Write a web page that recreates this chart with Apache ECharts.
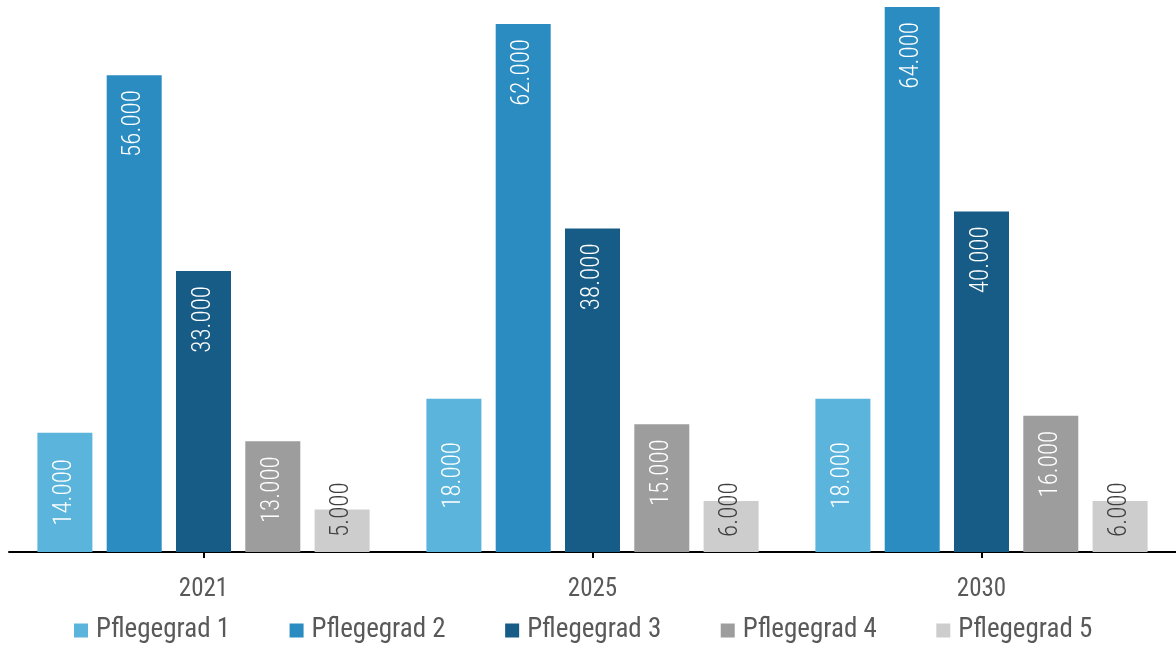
<!DOCTYPE html>
<html>
<head>
<meta charset="utf-8">
<script src="https://cdn.jsdelivr.net/npm/echarts@6/dist/echarts.min.js"></script>
<style>html,body{margin:0;padding:0;background:#fff}#c{width:1176px;height:648px}</style>
</head>
<body>
<div id="c"></div>
<script>
const categories = ['2021', '2025', '2030'];
const seriesNames = ['Pflegegrad 1', 'Pflegegrad 2', 'Pflegegrad 3', 'Pflegegrad 4', 'Pflegegrad 5'];
const pflegegrad1 = [14000, 18000, 18000];
const pflegegrad2 = [56000, 62000, 64000];
const pflegegrad3 = [33000, 38000, 40000];
const pflegegrad4 = [13000, 15000, 16000];
const pflegegrad5 = [5000, 6000, 6000];
const colors = ['#5AB4DC', '#2A8CC0', '#175B87', '#9D9D9D', '#CDCDCD'];

const FONT = '"Roboto Condensed", "DejaVu Sans Condensed", "Liberation Sans Narrow", sans-serif';
const fmt = v => v.value.toLocaleString('de-DE');

const labelStyles = [
  { position: 'inside', align: 'center', verticalAlign: 'middle', color: '#fff' },
  { position: 'insideTop', distance: 15, align: 'right', verticalAlign: 'middle', color: '#fff' },
  { position: 'insideTop', distance: 15, align: 'right', verticalAlign: 'middle', color: '#fff' },
  { position: 'insideTop', distance: 15, align: 'right', verticalAlign: 'middle', color: '#fff' },
  { position: 'insideBottom', distance: 15, align: 'left', verticalAlign: 'middle', color: '#404040' }
];
const data = [pflegegrad1, pflegegrad2, pflegegrad3, pflegegrad4, pflegegrad5];

const series = seriesNames.map((name, i) => ({
  name,
  type: 'bar',
  data: data[i],
  barWidth: 55,
  barGap: '26%',
  itemStyle: { color: colors[i] },
  label: Object.assign({
    show: true,
    rotate: 90,
    fontFamily: FONT,
    fontWeight: 300,
    fontSize: 25,
    formatter: fmt
  }, labelStyles[i])
}));

const chart = echarts.init(document.getElementById('c'), null, { renderer: 'canvas' });
chart.setOption({
  animation: false,
  color: colors,
  grid: { left: 9, right: -3, top: 7, bottom: 96, containLabel: false },
  xAxis: {
    type: 'category',
    data: categories,
    axisLine: { show: true, lineStyle: { color: '#000', width: 2 } },
    axisTick: { show: true, alignWithLabel: true, length: 6, lineStyle: { color: '#000', width: 2 } },
    axisLabel: { color: '#595959', fontFamily: FONT, fontSize: 25, margin: 25 }
  },
  yAxis: {
    type: 'value',
    min: 0,
    max: 64000,
    show: false,
    splitLine: { show: false }
  },
  legend: {
    data: seriesNames,
    left: 74,
    top: 617,
    padding: 0,
    itemWidth: 14,
    itemHeight: 14,
    itemGap: 59.5,
    icon: 'rect',
    textStyle: { color: '#595959', fontFamily: FONT, fontSize: 27, padding: [0, 0, 0, 3] }
  },
  series
});
</script>
</body>
</html>
